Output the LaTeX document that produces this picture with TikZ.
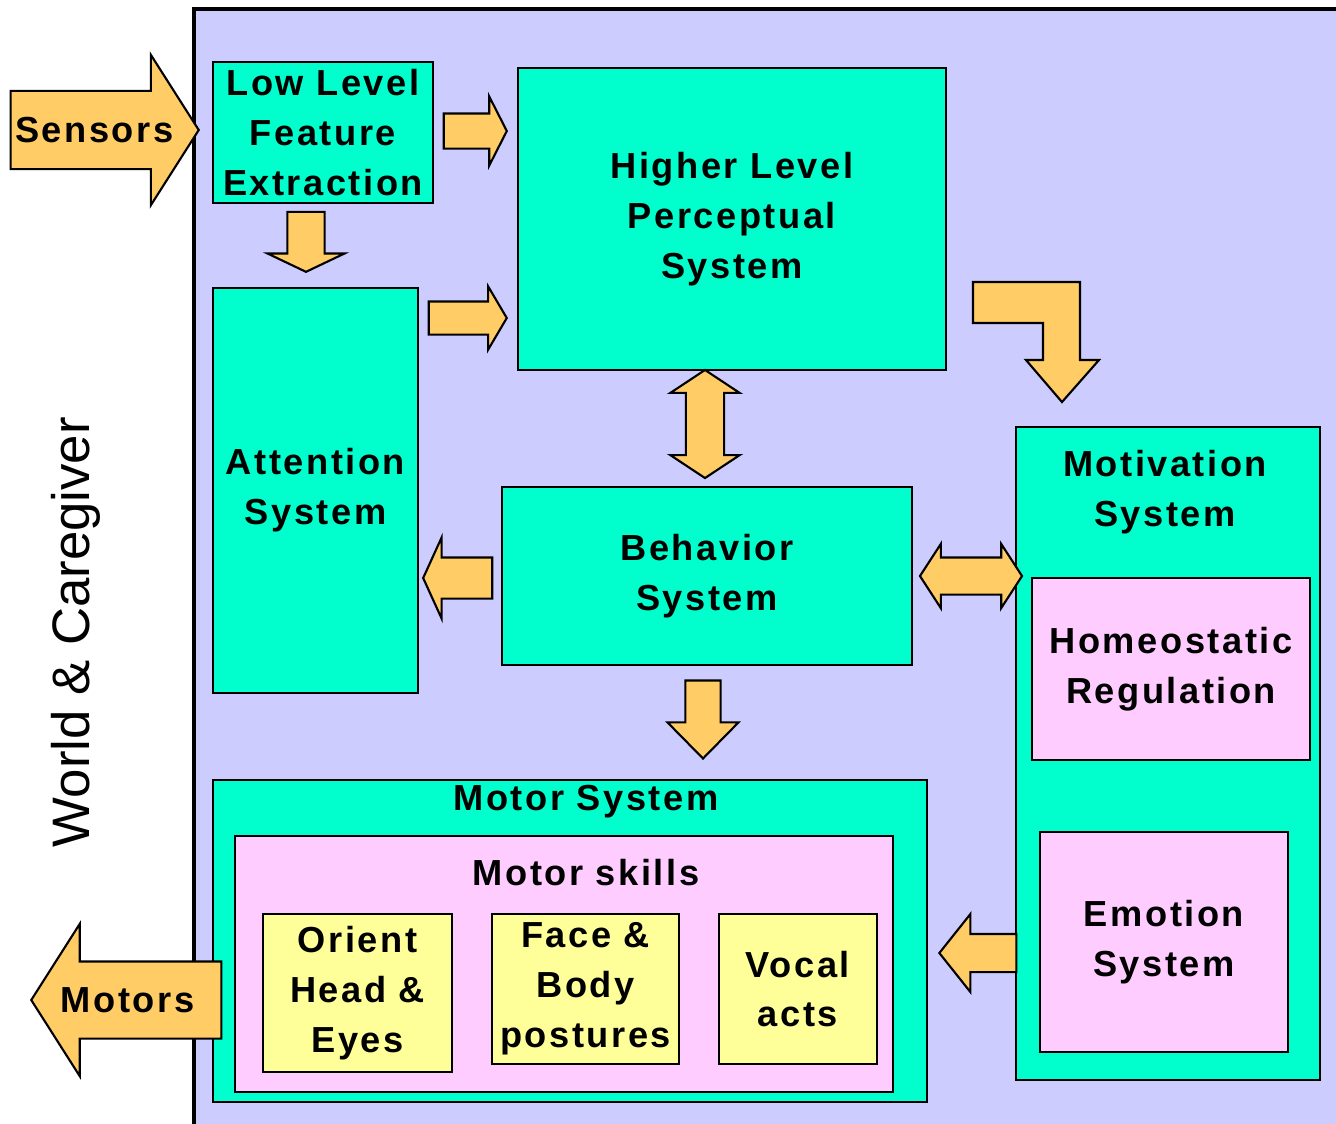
\documentclass[tikz,border=0pt]{standalone}
\usepackage{fontspec}
\newfontfamily\boxfont{Liberation Sans}[LetterSpace=7]
\newfontfamily\sidefont{Liberation Sans}
\usetikzlibrary{shapes.arrows}
\definecolor{panelblue}{HTML}{CCCCFF}
\definecolor{sysgreen}{HTML}{00FFCC}
\definecolor{subpink}{HTML}{FFCCFF}
\definecolor{actyellow}{HTML}{FFFF99}
\definecolor{arrowgold}{HTML}{FFCC66}

\begin{document}
\begin{tikzpicture}[
    x=0.01cm, y=-0.01cm,
    every node/.style={font=\boxfont\bfseries\fontsize{10.3}{14.2}\selectfont},
    sys/.style={
      draw=black, line width=0.6pt,
      fill=sysgreen, inner sep=0pt, align=center,
    },
    sub/.style={sys, fill=subpink},
    act/.style={sys, fill=actyellow},
    title/.style={align=center, inner sep=0pt},
    fat/.style={
      single arrow, draw=black, line width=0.6pt,
      fill=arrowgold, inner xsep=0pt,
      single arrow head indent=0pt,
    },
    fatboth/.style={
      double arrow, draw=black, line width=0.6pt,
      fill=arrowgold, inner xsep=0pt,
      double arrow head indent=0pt,
    },
  ]
  \useasboundingbox (0,0) rectangle (1336,1123);

  % the robot
  \draw[fill=panelblue, line width=0.9pt] (194,9) rectangle (1360,1140);
  \node[rotate=90, font=\sidefont\fontsize{15}{18}\selectfont] (world) at (76,632) {World \& Caregiver};

  % perception
  \node[sys, minimum width=2.20cm, minimum height=1.41cm] (llfe) at (323,132.5) {Low Level\\Feature\\Extraction};
  \node[sys, minimum width=4.28cm, minimum height=3.02cm] (hlps) at (732,219) {Higher Level\\Perceptual\\System};
  \node[sys, minimum width=2.05cm, minimum height=4.05cm] (att) at (315.5,490.5) {Attention\\System};
  \node[sys, minimum width=4.10cm, minimum height=1.78cm] (beh) at (707,576) {Behavior\\System};

  % motivation
  \node[sys, minimum width=3.04cm, minimum height=6.53cm] (motiv) at (1168,753.5) {};
  \node[title] (motiv-t) at (1165,492) {Motivation\\System};
  \node[sub, minimum width=2.78cm, minimum height=1.82cm] (homeo) at (1171,669) {Homeostatic\\Regulation};
  \node[sub, minimum width=2.48cm, minimum height=2.20cm] (emo) at (1164,942) {Emotion\\System};

  % motor side
  \node[sys, minimum width=7.14cm, minimum height=3.22cm] (motor) at (570,941) {};
  \node[title] (motor-t) at (586,802) {Motor System};
  \node[sub, minimum width=6.58cm, minimum height=2.56cm] (skills) at (564,964) {};
  \node[title] (skills-t) at (586,873) {Motor skills};
  \node[act, minimum width=1.89cm, minimum height=1.58cm] (orient) at (357.5,993) {Orient\\Head \&\\Eyes};
  \node[act, minimum width=1.87cm, minimum height=1.50cm] (face) at (585.5,989) {Face \&\\Body\\postures};
  \node[act, minimum width=1.58cm, minimum height=1.50cm] (vocal) at (798,989) {Vocal\\acts};

  % block arrows
  \node[fat, anchor=tip, minimum height=1.88cm, inner ysep=0.38cm,
    single arrow head extend=0.36cm, single arrow tip angle=115,
    label={[xshift=0.02cm]center:Sensors}] (sens) at (200,130) {};
  \node[fat, anchor=tip, minimum height=0.63cm, inner ysep=0.165cm,
    single arrow head extend=0.17cm, single arrow tip angle=126] (llfe-hlps) at (508,131) {};
  \node[fat, anchor=tip, rotate=-90, minimum height=0.60cm, inner ysep=0.175cm,
    single arrow head extend=0.20cm, single arrow tip angle=129] (llfe-att) at (306,273) {};
  \node[fat, anchor=tip, minimum height=0.78cm, inner ysep=0.155cm,
    single arrow head extend=0.15cm, single arrow tip angle=119] (att-hlps) at (508,318) {};
  \node[fatboth, rotate=90, minimum height=1.08cm, inner ysep=0.18cm,
    double arrow head extend=0.155cm, double arrow tip angle=113] (hlps-beh) at (705,424) {};
  \node[fat, anchor=tip, shape border rotate=180, minimum height=0.69cm, inner ysep=0.195cm,
    single arrow head extend=0.20cm, single arrow tip angle=131] (beh-att) at (422,578) {};
  \node[fatboth, minimum height=1.02cm, inner ysep=0.175cm,
    double arrow head extend=0.135cm, double arrow tip angle=114] (beh-motiv) at (971,576) {};
  \node[fat, anchor=tip, rotate=-90, minimum height=0.78cm, inner ysep=0.165cm,
    single arrow head extend=0.18cm, single arrow tip angle=89] (beh-motor) at (703,760) {};
  \node[fat, anchor=tip, shape border rotate=180, minimum height=0.77cm, inner ysep=0.18cm,
    single arrow head extend=0.20cm, single arrow tip angle=103] (emo-motor) at (938,953) {};
  \node[fat, anchor=tip, shape border rotate=180, minimum height=1.90cm, inner ysep=0.375cm,
    single arrow head extend=0.375cm, single arrow tip angle=115,
    label={[xshift=-0.11cm]center:Motors}] (mots) at (30,1000) {};

  % bent one from perception down to motivation
  \draw[fill=arrowgold, line width=0.6pt] (973,282) -- (1080,282) -- (1080,360) -- (1099,360)
    -- (1062,402) -- (1026,360) -- (1043,360) -- (1043,323) -- (973,323) -- cycle;
\end{tikzpicture}
\end{document}
